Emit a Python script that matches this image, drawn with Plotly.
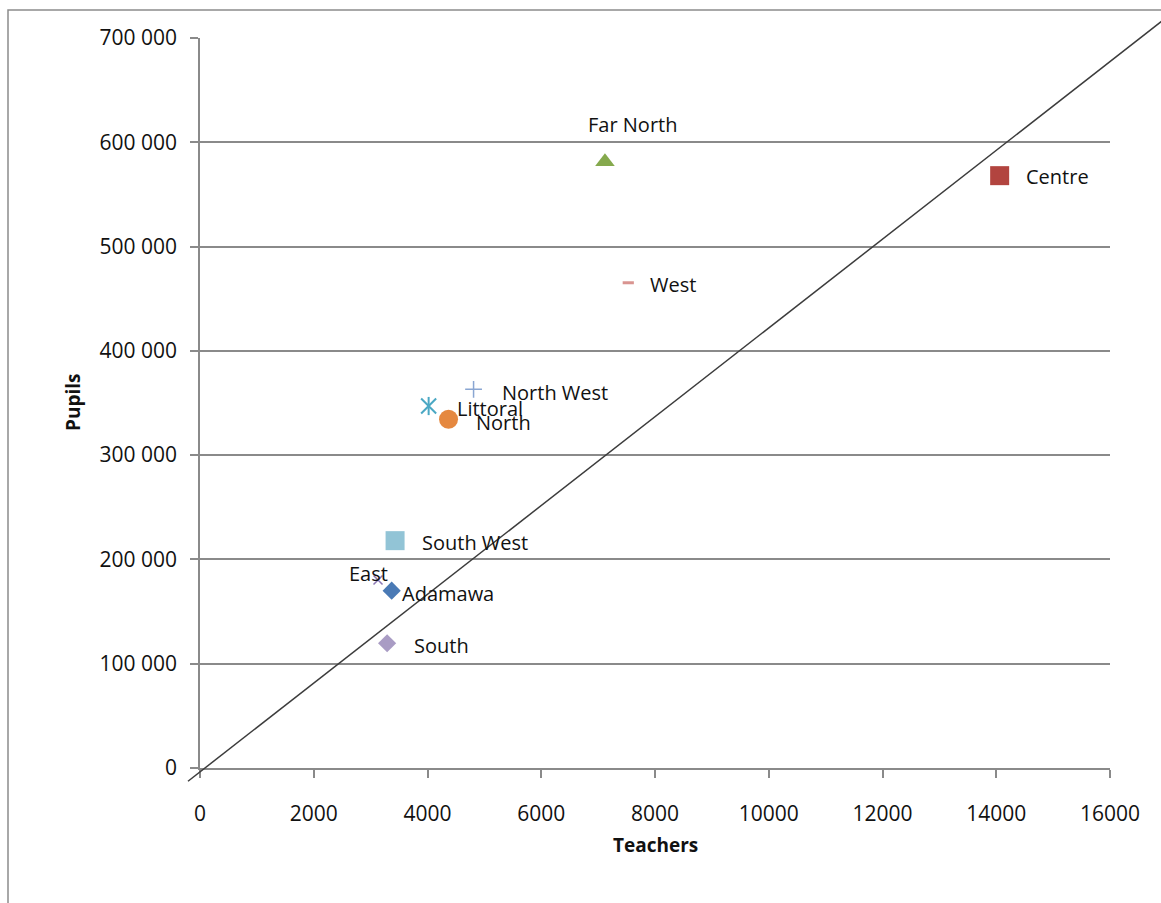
import plotly.graph_objects as go

# Primary school teachers and pupils by region
regions = ["Adamawa", "Centre", "Far North", "East", "Littoral",
           "North", "North West", "West", "South West", "South"]
teachers = [3370, 14060, 7120, 3130, 4020, 4370, 4810, 7530, 3430, 3290]
pupils = [170000, 568000, 581400, 180300, 347100, 334400, 363100, 465300, 218000, 119600]

# Reference ratio line (teachers, pupils) end points
ratio_teachers = [-211, 17100]
ratio_pupils = [-12700, 724200]

x_ticks = [0, 2000, 4000, 6000, 8000, 10000, 12000, 14000, 16000]
y_ticks = [0, 100000, 200000, 300000, 400000, 500000, 600000, 700000]

# Marker style per region
styles = {
    "Adamawa":    dict(symbol="diamond", color="#4A7AB5", size=14),
    "Centre":     dict(symbol="square", color="#B2443F", size=19),
    "Far North":  dict(symbol="triangle-up", color="#85A94D", size=17),
    "East":       dict(symbol="x-thin-open", color="#8C78B4", size=9, lw=1.5),
    "Littoral":   dict(symbol="x-thin-open", color="#4BA8C4", size=15, lw=2),
    "North":      dict(symbol="circle", color="#E5883F", size=19),
    "North West": dict(symbol="cross-thin-open", color="#8AA6D2", size=12, lw=1.5),
    "West":       dict(symbol="line-ew-open", color="#D99490", size=8, lw=3),
    "South West": dict(symbol="square", color="#92C4D6", size=19),
    "South":      dict(symbol="diamond", color="#A99CC4", size=14),
}

# Label offsets (pixels, right / down from the marker)
label_offsets = {
    "Adamawa": (8, 3), "Centre": (24, 1), "Far North": (-19, -37),
    "East": (-31, -6), "Littoral": (26, 2), "North": (25, 3),
    "North West": (26, 3), "West": (20, 2), "South West": (25, 2),
    "South": (25, 2),
}

X_RANGE = [0, 16000]
Y_RANGE = [0, 700000]
W, H = 1161, 903
ML, MR, MT, MB = 200, 51, 38, 135
PW, PH = W - ML - MR, H - MT - MB

TEXT = "#111111"
GRID = "#8a8a8a"
FONT = "Open Sans"

fig = go.Figure()

for name, t, p in zip(regions, teachers, pupils):
    s = styles[name]
    marker = dict(symbol=s["symbol"], color=s["color"], size=s["size"])
    if s["symbol"].endswith("-open"):
        marker["line"] = dict(width=s.get("lw", 1.5), color=s["color"])
    else:
        marker["line"] = dict(width=0)
    fig.add_trace(go.Scatter(x=[t], y=[p], mode="markers", marker=marker,
                             name=name, showlegend=False, cliponaxis=False))
    if name == "Littoral":
        # star marker: diagonal cross plus a vertical stroke
        fig.add_trace(go.Scatter(
            x=[t], y=[p], mode="markers", showlegend=False, cliponaxis=False,
            marker=dict(symbol="line-ns-open", size=13, color=s["color"],
                        line=dict(width=2, color=s["color"]))))
    dx, dy = label_offsets[name]
    fig.add_annotation(x=t, y=p, xref="x", yref="y", text=name,
                       showarrow=False, xanchor="left", yanchor="middle",
                       xshift=dx, yshift=-dy,
                       font=dict(family=FONT, size=20, color=TEXT))


def to_paper_x(v):
    return (v - X_RANGE[0]) / (X_RANGE[1] - X_RANGE[0])


def to_paper_y(v):
    return (v - Y_RANGE[0]) / (Y_RANGE[1] - Y_RANGE[0])


# Ratio line, allowed to run past the plot area
fig.add_shape(type="line", xref="paper", yref="paper",
              x0=to_paper_x(ratio_teachers[0]), y0=to_paper_y(ratio_pupils[0]),
              x1=to_paper_x(ratio_teachers[1]), y1=to_paper_y(ratio_pupils[1]),
              line=dict(color="#3c3c3c", width=1.5), layer="above")

# Chart frame
fig.add_shape(type="rect", xref="paper", yref="paper",
              x0=(8 - ML) / PW, x1=(W + 20 - ML) / PW,
              y0=-(H + 20 - MT - PH) / PH, y1=1 + (MT - 10) / PH,
              line=dict(color="#8c8c8c", width=1.5), fillcolor="rgba(0,0,0,0)",
              layer="below")

# Axis titles
fig.add_annotation(text="<b>Pupils</b>", xref="paper", yref="paper",
                   x=0, y=0.5, xshift=-142, showarrow=False, textangle=-90,
                   font=dict(family=FONT, size=19, color=TEXT))
fig.add_annotation(text="<b>Teachers</b>", xref="paper", yref="paper",
                   x=0.5, y=0, yshift=-92, showarrow=False,
                   font=dict(family=FONT, size=19, color=TEXT))

fig.update_xaxes(range=X_RANGE, tickvals=x_ticks, tickformat="d",
                 showgrid=False, zeroline=False,
                 showline=True, linecolor=GRID, linewidth=1.5,
                 ticks="outside", ticklen=8, tickwidth=1.5, tickcolor=GRID,
                 ticklabelstandoff=18,
                 tickfont=dict(family=FONT, size=21, color=TEXT))
fig.update_yaxes(range=Y_RANGE, tickvals=y_ticks, tickformat=",d",
                 showgrid=True, gridcolor=GRID, gridwidth=1.5, zeroline=False,
                 showline=True, linecolor=GRID, linewidth=1.5,
                 ticks="outside", ticklen=8, tickwidth=1.5, tickcolor=GRID,
                 ticklabelstandoff=9,
                 tickfont=dict(family=FONT, size=21, color=TEXT))

fig.update_layout(width=W, height=H,
                  margin=dict(l=ML, r=MR, t=MT, b=MB, pad=0),
                  plot_bgcolor="white", paper_bgcolor="white",
                  separators=". ", showlegend=False)

fig.write_html("out.html")
